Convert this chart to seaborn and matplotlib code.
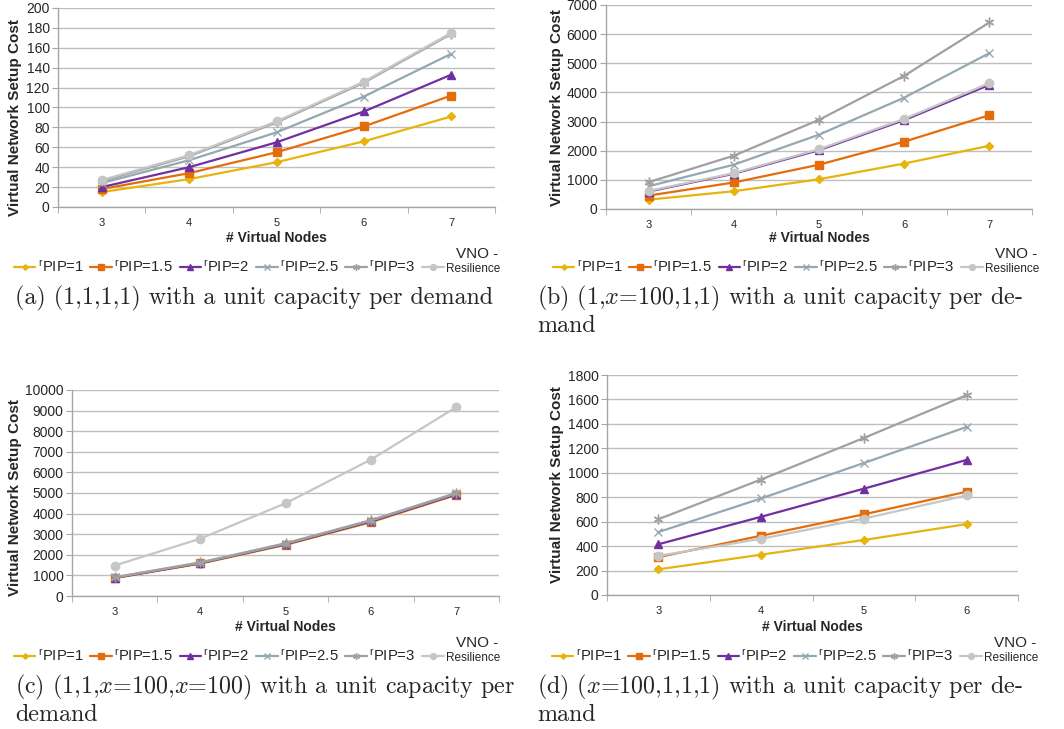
import numpy as np
import pandas as pd
import seaborn as sns
import matplotlib.pyplot as plt
from matplotlib.ticker import MultipleLocator, FixedLocator

sns.set_style("white")
plt.rcParams["font.family"] = ["Liberation Sans", "DejaVu Sans"]
plt.rcParams["mathtext.fontset"] = "cm"

# ----------------------------- data
nodes = [3, 4, 5, 6, 7]
nodes_d = [3, 4, 5, 6]
series = [r"$\mathregular{^r}$PIP=1", r"$\mathregular{^r}$PIP=1.5",
          r"$\mathregular{^r}$PIP=2", r"$\mathregular{^r}$PIP=2.5",
          r"$\mathregular{^r}$PIP=3", "Resilience"]

# (a) (1,1,1,1)
cost_a = [
    [15, 28, 45, 66, 91],
    [18, 34, 55, 81, 112],
    [20, 40, 65, 96, 133],
    [24, 47, 75, 111, 154],
    [26, 51, 85, 125, 174],
    [27, 52, 86, 126, 175],
]
# (b) (1,x=100,1,1)
cost_b = [
    [320, 610, 1020, 1560, 2170],
    [460, 910, 1520, 2310, 3220],
    [600, 1210, 2020, 3050, 4260],
    [780, 1520, 2550, 3820, 5350],
    [920, 1830, 3060, 4570, 6400],
    [620, 1230, 2050, 3090, 4320],
]
# (c) (1,1,x=100,x=100)
cost_c = [
    [870, 1570, 2480, 3580, 4910],
    [880, 1580, 2500, 3600, 4920],
    [880, 1590, 2510, 3620, 4940],
    [900, 1610, 2540, 3660, 4980],
    [910, 1630, 2560, 3680, 5000],
    [1480, 2780, 4500, 6620, 9170],
]
# (d) (x=100,1,1,1)
cost_d = [
    [210, 330, 450, 580],
    [310, 485, 660, 845],
    [415, 640, 870, 1105],
    [515, 790, 1080, 1375],
    [620, 945, 1285, 1635],
    [320, 460, 625, 815],
]

captions_a = ["(a) (1,1,1,1) with a unit capacity per demand"]
captions_b = ["(b) (1,$x$=100,1,1) with a unit capacity per de-", "mand"]
captions_c = ["(c) (1,1,$x$=100,$x$=100) with a unit capacity per", "demand"]
captions_d = ["(d) ($x$=100,1,1,1) with a unit capacity per de-", "mand"]

colors = ["#E6B40C", "#E46C0A", "#7030A0", "#93A8B0", "#A0A0A0", "#C6C6C6"]
markers = ["D", "s", "^", "x", (6, 2, 0), "o"]
msizes = [4, 6, 6, 6, 7, 6]

W, H = 1064, 729
fig = plt.figure(figsize=(W / 100, H / 100), dpi=100)


def panel(box, x, data, ymax, ystep, caps, ylab_xy, xlab_y, leg_xy, cap_x, cap_y):
    l, t, r, b = box
    ax = fig.add_axes([l / W, 1 - b / H, (r - l) / W, (b - t) / H])
    df = pd.DataFrame({"nodes": x})
    for i, name in enumerate(series):
        df["s%d" % i] = data[i]
    for i, name in enumerate(series):
        sns.lineplot(data=df, x="nodes", y="s%d" % i, ax=ax, color=colors[i],
                     marker=markers[i], markersize=msizes[i], linewidth=1.6,
                     markeredgecolor=colors[i], markeredgewidth=1.0,
                     label=name, legend=False, zorder=3 + i)
    ax.set_xlim(x[0] - 0.5, x[-1] + 0.5)
    ax.set_ylim(0, ymax)
    ax.yaxis.set_major_locator(MultipleLocator(ystep))
    ax.set_xticks(x)
    ax.xaxis.set_minor_locator(FixedLocator(np.arange(x[0] - 0.5, x[-1] + 1, 1)))
    ax.grid(axis="y", color="#BEBEBE", linewidth=1)
    ax.grid(axis="x", visible=False)
    for s in ["top", "right"]:
        ax.spines[s].set_visible(False)
    for s in ["left", "bottom"]:
        ax.spines[s].set_color("#A6A6A6")
        ax.spines[s].set_linewidth(1)
    ax.tick_params(axis="y", left=True, length=4, color="#A6A6A6", labelsize=10, pad=2)
    ax.tick_params(axis="x", which="major", bottom=False, length=0, labelsize=8, pad=8)
    ax.tick_params(axis="x", which="minor", bottom=True, length=4, color="#A6A6A6")
    ax.set_xlabel("")
    ax.set_ylabel("")

    fig.text(ylab_xy[0] / W, 1 - ylab_xy[1] / H, "Virtual Network Setup Cost",
             rotation=90, ha="center", va="center", fontsize=11, fontweight="bold")
    fig.text((l + r) / 2 / W, 1 - xlab_y / H, "# Virtual Nodes",
             ha="center", va="center", fontsize=10, fontweight="bold")

    handles = ax.get_lines()[:len(series)]
    leg = fig.legend(handles, series, loc="center",
                     bbox_to_anchor=(leg_xy[0] / W, 1 - leg_xy[1] / H),
                     ncol=6, frameon=False, fontsize=10.7, handlelength=1.45,
                     handletextpad=0.15, columnspacing=0.45, borderaxespad=0,
                     markerscale=0.7)
    leg.get_texts()[-1].set_fontsize(8.5)
    fig.canvas.draw()
    bb = leg.get_texts()[-1].get_window_extent()
    fig.text((bb.x0 + bb.x1) / 2 / W + 0.004, (bb.y1 + 2) / H, "VNO -",
             ha="center", va="bottom", fontsize=11)

    for k, line in enumerate(caps):
        fig.text(cap_x / W, 1 - cap_y[k] / H, line, family="cmr10",
                 fontsize=17.3, ha="left", va="baseline")
    return ax


panel((58, 8, 495, 207), nodes, cost_a, 200, 20, captions_a,
      (15, 118), 238, (257, 267), 15, [304])
panel((606, 5, 1032, 209), nodes, cost_b, 7000, 1000, captions_b,
      (557, 108), 238, (796, 267), 537, [304, 332])
panel((72, 390, 499, 596), nodes, cost_c, 10000, 1000, captions_c,
      (15, 498), 627, (257, 656), 15, [693, 721])
panel((607, 375, 1018, 595), nodes_d, cost_d, 1800, 200, captions_d,
      (557, 485), 627, (795, 656), 537, [693, 721])

fig.savefig("out.png", dpi=100)
